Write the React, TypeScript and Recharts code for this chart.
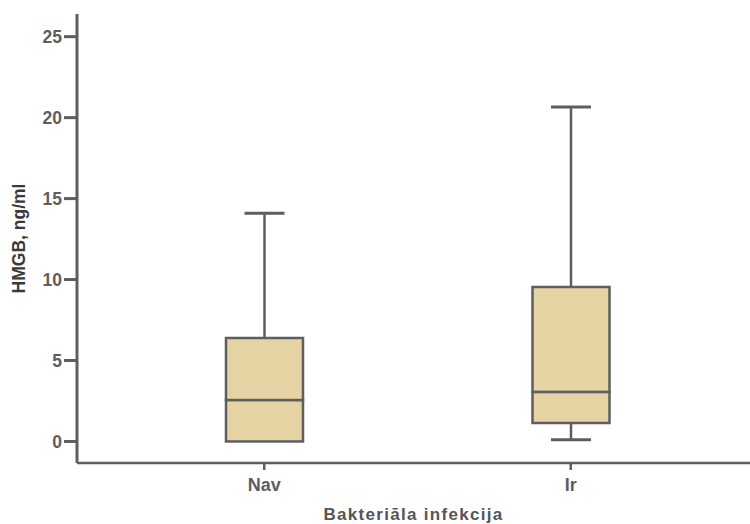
import { ComposedChart, Bar, XAxis, YAxis } from "recharts";

const categories = ["Nav", "Ir"];
const mins = [0, 0.1];
const q1s = [0, 1.14];
const medians = [2.56, 3.06];
const q3s = [6.39, 9.54];
const maxs = [14.1, 20.65];
const yTicks = [0, 5, 10, 15, 20, 25];

const data = categories.map((name, i) => ({
  name,
  base: mins[i],
  lowWhisker: q1s[i] - mins[i],
  lowBox: medians[i] - q1s[i],
  highBox: q3s[i] - medians[i],
  highWhisker: maxs[i] - q3s[i],
}));

const ink = "#5e5e5e";
const boxFill = "#e6d3a3";

const Whisker = (cap: "top" | "bottom") => (props: any) => {
  const { x, y, width, height } = props;
  if (!height || height <= 0) return <g />;
  const cx = x + width / 2;
  const capY = cap === "top" ? y : y + height;
  return (
    <g>
      <line x1={cx} x2={cx} y1={y} y2={y + height} stroke={ink} strokeWidth={2.5} />
      <line x1={cx - 20} x2={cx + 20} y1={capY} y2={capY} stroke={ink} strokeWidth={3} />
    </g>
  );
};

const BoxPart = (props: any) => {
  const { x, y, width, height } = props;
  if (!height || height <= 0) return <g />;
  return <rect x={x} y={y} width={width} height={height} fill={boxFill} stroke={ink} strokeWidth={2.5} />;
};

const font = "'Liberation Sans', Arial, sans-serif";

export default function App() {
  return (
    <div style={{ position: "absolute", left: 0, top: 0, background: "#fff", fontFamily: font }}>
      <ComposedChart
        width={750}
        height={524}
        data={data}
        margin={{ top: 14, right: 0, left: 0, bottom: 0 }}
        barCategoryGap={0}
      >
        <XAxis
          dataKey="name"
          padding={{ left: 34, right: 26 }}
          height={61}
          stroke={ink}
          strokeWidth={2.5}
          tickSize={7}
          tickMargin={8}
          tick={{ fill: ink, fontSize: 18, fontWeight: 700, fontFamily: font }}
          label={{
            value: "Bakteriāla infekcija",
            position: "insideBottom",
            offset: 4,
            fill: "#555",
            fontSize: 17,
            fontWeight: 700,
            fontFamily: font,
            letterSpacing: 1.3,
          }}
        />
        <YAxis
          width={77}
          domain={[-1.33, 26.4]}
          ticks={yTicks}
          type="number"
          allowDataOverflow
          stroke={ink}
          strokeWidth={3}
          tickSize={13}
          tickMargin={2}
          tick={{ fill: ink, fontSize: 17.5, fontWeight: 700, fontFamily: font }}
          label={{
            value: "HMGB, ng/ml",
            angle: -90,
            position: "insideLeft",
            offset: 19,
            fill: "#3a3a3a",
            fontSize: 17.5,
            fontWeight: 700,
            fontFamily: font,
            style: { textAnchor: "middle" },
          }}
        />
        <Bar dataKey="base" stackId="b" barSize={77} fill="transparent" isAnimationActive={false} />
        <Bar dataKey="lowWhisker" stackId="b" barSize={77} shape={Whisker("bottom")} isAnimationActive={false} />
        <Bar dataKey="lowBox" stackId="b" barSize={77} shape={BoxPart} isAnimationActive={false} />
        <Bar dataKey="highBox" stackId="b" barSize={77} shape={BoxPart} isAnimationActive={false} />
        <Bar dataKey="highWhisker" stackId="b" barSize={77} shape={Whisker("top")} isAnimationActive={false} />
      </ComposedChart>
    </div>
  );
}
